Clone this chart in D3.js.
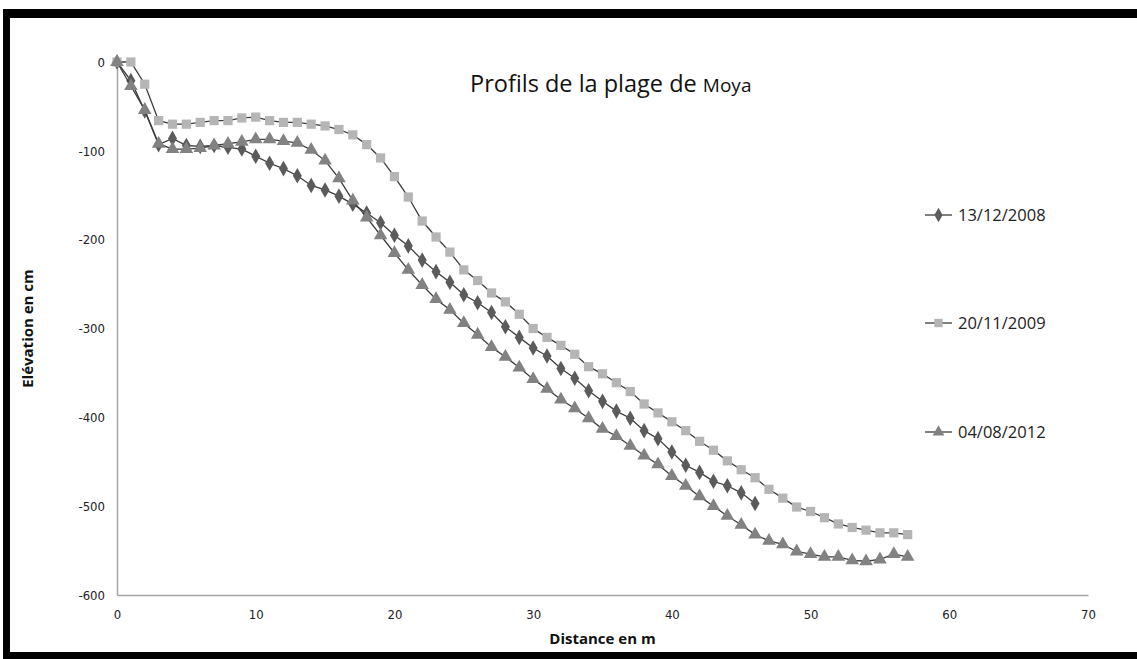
<!DOCTYPE html>
<html>
<head>
<meta charset="utf-8">
<script src="https://cdn.jsdelivr.net/npm/d3@7"></script>
<style>
body { margin: 0; background: white; }
svg { display: block; }
</style>
</head>
<body>
<div id="chartDIV"></div>
<script>

// distances (m) and elevations (cm)
distances = [0,1,2,3,4,5,6,7,8,9,10,11,12,13,14,15,16,17,18,19,20,21,22,23,24,25,26,27,28,29,
  30,31,32,33,34,35,36,37,38,39,40,41,42,43,44,45,46,47,48,49,50,51,52,53,54,55,56,57]

elev2008 = [0,-21,-55,-93,-86,-94,-95,-94,-96,-98,
  -106,-114,-120,-128,-139,-144,-151,-160,-170,-181,
  -195,-207,-223,-236,-248,-262,-271,-282,-298,-310,
  -322,-331,-345,-356,-370,-382,-393,-401,-415,-424,
  -439,-454,-462,-472,-477,-485,-497]

elev2009 = [0,0,-25,-66,-70,-70,-68,-66,-66,-63,
  -62,-66,-68,-68,-70,-72,-76,-82,-93,-108,
  -129,-152,-179,-197,-214,-234,-246,-260,-270,-284,
  -300,-310,-319,-329,-343,-351,-361,-371,-385,-395,
  -405,-415,-427,-437,-449,-459,-468,-481,-491,-501,
  -506,-513,-520,-524,-527,-530,-530,-532]

elev2012 = [0,-27,-54,-92,-98,-98,-97,-94,-92,-90,
  -87,-87,-89,-91,-99,-111,-131,-156,-175,-195,
  -215,-234,-251,-267,-279,-294,-307,-321,-332,-344,
  -357,-368,-380,-390,-401,-413,-421,-432,-443,-453,
  -466,-477,-489,-500,-511,-521,-532,-539,-543,-551,
  -554,-557,-557,-561,-562,-560,-554,-557]

seriesNames = ["13/12/2008","20/11/2009","04/08/2012"]
seriesValues = [elev2008, elev2009, elev2012]
seriesSymbols = [d3.symbolDiamond, d3.symbolSquare, d3.symbolTriangle]
seriesFill = ["#5b5b5b","#b5b5b5","#828282"]

xTicks = [0,10,20,30,40,50,60,70]
yTicks = [0,-100,-200,-300,-400,-500,-600]

var W = 1137, H = 659

var svg = d3.select("#chartDIV").append("svg")
  .attr("width", W)
  .attr("height", H)

svg.append("rect")
  .attr("x",0).attr("y",0)
  .attr("width",W).attr("height",H)
  .attr("fill","white")

// black frame (top, left, bottom)
svg.append("rect").attr("x",3).attr("y",9).attr("width",W-3).attr("height",9).attr("fill","black")
svg.append("rect").attr("x",3).attr("y",9).attr("width",7).attr("height",H-9).attr("fill","black")
svg.append("rect").attr("x",3).attr("y",652).attr("width",W-3).attr("height",7).attr("fill","black")

var x = d3.scaleLinear().domain([0,70]).range([117,1088])
var y = d3.scaleLinear().domain([-600,0]).range([595,62])

var tickFont = "'Liberation Sans Narrow','DejaVu Sans Condensed',sans-serif"
var textFont = "'Open Sans',Lato,sans-serif"

// axes
var xAxis = svg.append("g")
  .attr("transform","translate(0," + y(-600) + ")")
  .call(d3.axisBottom(x).tickValues(xTicks).tickSize(0).tickPadding(15))
var yAxis = svg.append("g")
  .attr("transform","translate(" + x(0) + ",0)")
  .call(d3.axisLeft(y).tickValues(yTicks).tickSize(0).tickPadding(12).tickFormat(d3.format("d")))

svg.selectAll(".domain").attr("stroke","#a6a6a6").attr("stroke-width",1.5)
svg.selectAll(".tick text")
  .attr("font-family", tickFont)
  .attr("font-size", 13)
  .attr("fill","#222")
yAxis.selectAll(".tick text").text(function(d){ return d == 0 ? "0" : "-" + Math.abs(d) })

// series lines and markers
var line = d3.line()
  .x(function(d,i){ return x(distances[i]) })
  .y(function(d){ return y(d) })

seriesValues.forEach(function(vals, s)
{
  svg.append("path")
    .attr("d", line(vals))
    .attr("fill","none")
    .attr("stroke","#3c3c3c")
    .attr("stroke-width",1.3)

  var size = s == 1 ? 85 : (s == 0 ? 70 : 80)

  svg.append("g").selectAll("path")
    .data(vals)
    .enter()
    .append("path")
    .attr("d", d3.symbol().type(seriesSymbols[s]).size(size))
    .attr("transform", function(d,i){ return "translate(" + x(distances[i]) + "," + y(d) + ")" })
    .attr("fill", seriesFill[s])
})

// title
var title = svg.append("text")
  .attr("x", 470)
  .attr("y", 92)
  .attr("font-family", textFont)
  .attr("font-size", 23.5)
  .attr("fill","#111")
  .text("Profils de la plage de ")
title.append("tspan").attr("font-size",19).text("Moya")

// axis titles
svg.append("text")
  .attr("x", x(35))
  .attr("y", 644)
  .attr("text-anchor","middle")
  .attr("font-family", textFont)
  .attr("font-weight","bold")
  .attr("font-size", 15)
  .attr("fill","#111")
  .text("Distance en m")

svg.append("text")
  .attr("transform","translate(33," + y(-300) + ") rotate(-90)")
  .attr("text-anchor","middle")
  .attr("font-family", textFont)
  .attr("font-weight","bold")
  .attr("font-size", 15)
  .attr("fill","#111")
  .text("Elévation en cm")

// legend
var legendY = [215, 323, 432]
seriesNames.forEach(function(name, s)
{
  var g = svg.append("g").attr("transform","translate(0," + legendY[s] + ")")
  g.append("line")
    .attr("x1",925).attr("x2",952)
    .attr("y1",0).attr("y2",0)
    .attr("stroke","#3c3c3c").attr("stroke-width",1.3)
  g.append("path")
    .attr("d", d3.symbol().type(seriesSymbols[s]).size(s == 1 ? 70 : 60))
    .attr("transform","translate(938.5,0)")
    .attr("fill", seriesFill[s])
  g.append("text")
    .attr("x",958).attr("y",6)
    .attr("font-family", textFont)
    .attr("font-size", 16.5)
    .attr("fill","#222")
    .text(name)
})

</script>
</body>
</html>
